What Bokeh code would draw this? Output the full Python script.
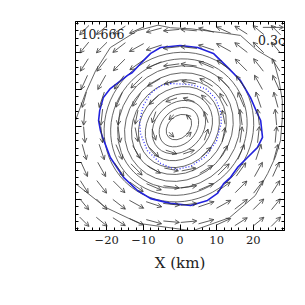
import numpy as np
from bokeh.plotting import figure
from bokeh.models import Range1d, LinearAxis, SingleIntervalTicker, Arrow, OpenHead, ColumnDataSource
from bokeh.core.properties import value
from bokeh.embed import file_html
from bokeh.resources import INLINE

# ---------------- data (km) ----------------
x_range = (-28.5, 28.5)
y_range = (-28.5, 28.5)
tick_values = [-20, -10, 0, 10, 20]

# gray density contours (ellipses): mean radius, aspect ratio
cont_cx = -0.3
cont_cy = -0.3
cont_r = [3.4, 5.3, 7.2, 9.1, 11.0, 12.9, 14.8, 16.7, 18.6, 20.4]
cont_q = [1.35, 1.3, 1.25, 1.2, 1.15, 1.12, 1.1, 1.08, 1.06, 1.05]
cont_angle_deg = 45

# outer gray contour
outer_x = [27.4, 27.9, 27.9, 27.0, 25.5, 21.1, 16.5, 11.0, 3.0, -2.6, -6.0, -11.6, -19.0, -23.0, -25.8, -28.5, -31.0,
           -28.5, -20.3, -11.0, 3.4, 13.5, 20.5, 23.9, 26.0, 27.4]
outer_y = [-4.0, 2.0, 7.0, 12.4, 18.0, 20.6, 24.7, 25.5, 26.5, 26.8, 27.5, 26.0, 21.4, 15.1, 8.9, 1.5, -7.0,
           -15.7, -22.2, -26.6, -28.6, -25.0, -19.0, -13.0, -8.5, -4.0]

# blue solid contour
blue_x = [0.1, -5.3, -8.0, -10.8, -13.0, -14.3, -19.0, -20.9, -21.9, -22.2, -21.7, -21.1, -19.0, -15.4, -11.6, -8.0,
          -2.6, 2.9, 7.5, 10.2, 11.9, 13.8, 15.7, 18.4, 21.1, 22.5, 22.0, 21.1, 19.2, 16.5, 13.0, 9.1, 4.8, 0.1]
blue_y = [21.95, 21.4, 19.8, 17.0, 14.6, 13.8, 10.2, 7.8, 4.2, 1.5, -1.2, -3.1, -8.6, -14.0, -17.6, -19.8,
          -21.1, -21.7, -20.3, -18.4, -15.7, -14.0, -11.3, -8.6, -5.9, -3.1, 1.5, 3.4, 7.8, 12.4, 16.0, 19.8, 21.4, 21.95]

# blue dotted contour
dot_x = [-2.6, 2.9, 7.0, 9.7, 11.0, 11.3, 10.0, 7.0, 2.9, -1.2, -5.3, -8.9, -10.8, -11.0, -10.0, -8.0, -5.3, -2.6]
dot_y = [11.6, 11.3, 10.2, 7.5, 4.2, 1.0, -4.0, -8.3, -11.0, -11.9, -10.2, -6.7, -2.0, 1.5, 5.6, 8.9, 11.0, 11.6]

# velocity field: grid and rotation speed profile (units of c)
grid_start = -26.1
grid_step = 4.75
grid_n = 12
speed_r = [0, 4, 8, 12, 16, 20, 24, 28, 32, 38]
speed_v = [0.0, 0.12, 0.18, 0.21, 0.23, 0.24, 0.24, 0.23, 0.21, 0.19]
km_per_c = 18.7  # arrow length scale (0.3c reference arrow ~ 5.6 km)

# reference arrow
ref_speed = 0.3
ref_x0 = 22.6
ref_y0 = 26.9

# labels
label_x = [-27.1, 21.3]
label_y = [25.2, 23.3]
label_text = ["10.666", "0.3c"]

# ---------------- figure ----------------
p = figure(width=297, height=297, x_range=Range1d(*x_range), y_range=Range1d(*y_range),
           output_backend="svg", toolbar_location=None,
           min_border_left=75, min_border_right=13, min_border_top=21, min_border_bottom=67,
           x_axis_label="X (km)")
p.grid.visible = False
p.outline_line_color = "black"
p.outline_line_width = 1
p.background_fill_color = "white"
p.border_fill_color = "white"

p.add_layout(LinearAxis(), "above")
p.add_layout(LinearAxis(), "right")

for ax in p.axis:
    ax.ticker = SingleIntervalTicker(interval=10, num_minor_ticks=5)
    ax.major_tick_in = 6
    ax.major_tick_out = 0
    ax.minor_tick_in = 3
    ax.minor_tick_out = 0
    ax.axis_line_color = "black"
    ax.major_tick_line_color = "black"
    ax.minor_tick_line_color = "black"
    ax.major_label_text_font = "DejaVu Serif"
    ax.major_label_text_font_size = "11.5px"
    ax.major_label_text_color = "#222222"
    ax.major_label_standoff = 5

for ax in p.above + p.right + p.left:
    ax.major_label_overrides = {t: "" for t in tick_values}
    ax.major_label_standoff = 0

bx = p.below[0]
bx.axis_label_text_font = "DejaVu Serif"
bx.axis_label_text_font_style = "normal"
bx.axis_label_text_font_size = "15px"
bx.axis_label_text_color = "#222222"
bx.axis_label_standoff = 7

# gray contours
r = np.array(cont_r)
q = np.array(cont_q)
p.ellipse(x=[cont_cx] * len(r), y=[cont_cy] * len(r), width=2 * r * np.sqrt(q), height=2 * r / np.sqrt(q),
          angle=np.deg2rad(cont_angle_deg), fill_color=None, line_color="#555555", line_width=0.9)
p.line(outer_x, outer_y, line_color="#555555", line_width=0.9)

# blue contours
p.line(blue_x, blue_y, line_color="#2222dd", line_width=1.6)
p.line(dot_x, dot_y, line_color="#3333ff", line_width=1.3, line_dash="1 2")

# velocity arrows
g = grid_start + grid_step * np.arange(grid_n)
GX, GY = np.meshgrid(g, g)
GX = GX.ravel(); GY = GY.ravel()
R = np.hypot(GX, GY)
spd = np.interp(R, speed_r, speed_v)
L = spd * km_per_c
ux = -GY / R
uy = GX / R
src = ColumnDataSource(dict(x0=GX - 0.5 * L * ux, y0=GY - 0.5 * L * uy,
                            x1=GX + 0.5 * L * ux, y1=GY + 0.5 * L * uy))
p.add_layout(Arrow(end=OpenHead(size=4.5, line_color="#333333", line_width=0.8),
                   source=src, x_start="x0", y_start="y0", x_end="x1", y_end="y1",
                   line_color="#333333", line_width=0.8))

# reference arrow
ref_src = ColumnDataSource(dict(x0=[ref_x0], y0=[ref_y0], x1=[ref_x0 + ref_speed * km_per_c], y1=[ref_y0]))
p.add_layout(Arrow(end=OpenHead(size=4.5, line_color="#333333", line_width=0.8),
                   source=ref_src, x_start="x0", y_start="y0", x_end="x1", y_end="y1",
                   line_color="#333333", line_width=0.8))

# labels
p.text(x=label_x, y=label_y, text=label_text, text_font=value("DejaVu Serif"), text_font_size="12.5px",
       text_baseline="middle", text_align="left", text_color="#222222")

open("out.html", "w").write(file_html(p, INLINE))
